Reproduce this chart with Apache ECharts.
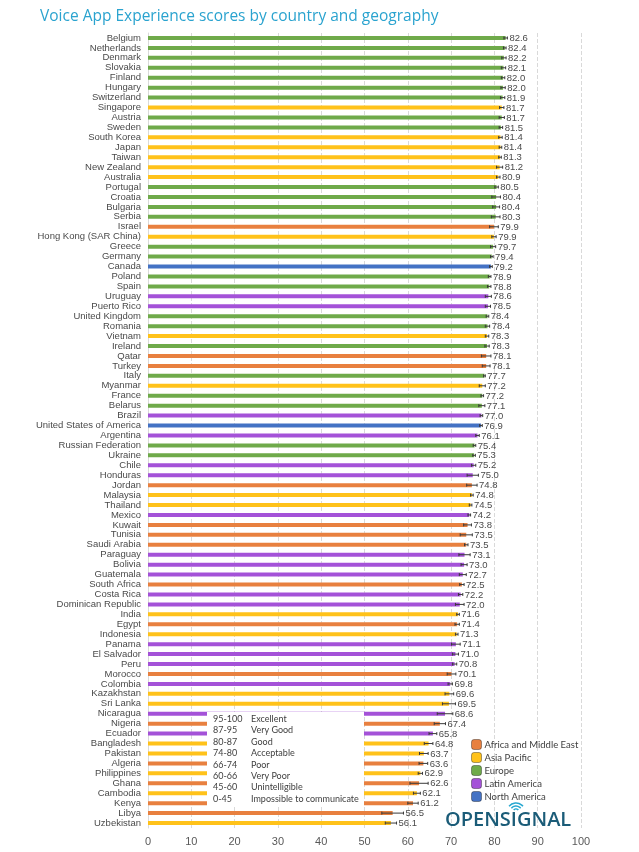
<!DOCTYPE html>
<html><head><meta charset="utf-8">
<script src="https://cdn.jsdelivr.net/npm/echarts@6/dist/echarts.min.js"></script>
<style>html,body{margin:0;padding:0;background:#fff}#c{width:639px;height:852px}</style>
</head><body><div id="c"></div>
<script>
const countries = ["Belgium","Netherlands","Denmark","Slovakia","Finland","Hungary","Switzerland","Singapore","Austria","Sweden","South Korea","Japan","Taiwan","New Zealand","Australia","Portugal","Croatia","Bulgaria","Serbia","Israel","Hong Kong (SAR China)","Greece","Germany","Canada","Poland","Spain","Uruguay","Puerto Rico","United Kingdom","Romania","Vietnam","Ireland","Qatar","Turkey","Italy","Myanmar","France","Belarus","Brazil","United States of America","Argentina","Russian Federation","Ukraine","Chile","Honduras","Jordan","Malaysia","Thailand","Mexico","Kuwait","Tunisia","Saudi Arabia","Paraguay","Bolivia","Guatemala","South Africa","Costa Rica","Dominican Republic","India","Egypt","Indonesia","Panama","El Salvador","Peru","Morocco","Colombia","Kazakhstan","Sri Lanka","Nicaragua","Nigeria","Ecuador","Bangladesh","Pakistan","Algeria","Philippines","Ghana","Cambodia","Kenya","Libya","Uzbekistan"];
const scores = [82.6,82.4,82.2,82.1,82.0,82.0,81.9,81.7,81.7,81.5,81.4,81.4,81.3,81.2,80.9,80.5,80.4,80.4,80.3,79.9,79.9,79.7,79.4,79.2,78.9,78.8,78.6,78.5,78.4,78.4,78.3,78.3,78.1,78.1,77.7,77.2,77.2,77.1,77.0,76.9,76.1,75.4,75.3,75.2,75.0,74.8,74.8,74.5,74.2,73.8,73.5,73.5,73.1,73.0,72.7,72.5,72.2,72.0,71.6,71.4,71.3,71.1,71.0,70.8,70.1,69.8,69.6,69.5,68.6,67.4,65.8,64.8,63.7,63.6,62.9,62.6,62.1,61.2,56.5,56.1];
// region codes: 0 Africa and Middle East, 1 Asia Pacific, 2 Europe, 3 Latin America, 4 North America
const regionOf = [2,2,2,2,2,2,2,1,2,2,1,1,1,1,1,2,2,2,2,0,1,2,2,4,2,2,3,3,2,2,1,2,0,0,2,1,2,2,3,4,3,2,2,3,3,0,1,1,3,0,0,0,3,3,3,0,3,3,1,0,1,3,3,3,0,3,1,1,3,0,3,1,1,0,1,0,1,0,0,1];
const errors = [0.4,0.3,0.5,0.5,0.4,0.5,0.5,0.5,0.6,0.4,0.4,0.3,0.3,0.7,0.4,0.4,1.0,0.8,1.0,1.0,0.5,0.6,0.3,0.3,0.3,0.4,0.7,0.6,0.3,0.5,0.4,0.5,1.1,0.9,0.2,0.7,0.3,0.7,0.3,0.3,0.4,0.3,0.3,0.5,1.3,1.2,0.3,0.3,0.3,0.9,1.4,0.4,1.3,0.7,0.8,0.5,0.5,1.0,0.3,0.5,0.3,1.0,0.7,0.5,1.0,0.5,1.0,1.5,1.8,1.3,0.9,1.0,1.0,1.0,0.5,2.1,0.8,1.2,2.5,1.3];
const regionNames = ["Africa and Middle East","Asia Pacific","Europe","Latin America","North America"];
const regionColors = ["#E8803F","#FFC21A","#6FAA4A","#A452D8","#4472C4"];
const xTicks = [0,10,20,30,40,50,60,70,80,90,100];
const scoreBands = ["95-100","87-95","80-87","74-80","66-74","60-66","45-60","0-45"];
const scoreNames = ["Excellent","Very Good","Good","Acceptable","Poor","Very Poor","Unintelligible","Impossible to communicate"];

const chart = echarts.init(document.getElementById('c'));
const barSeries = regionNames.map((name, r) => ({
  name, type: 'bar', barWidth: 4, barGap: '-100%',
  itemStyle: {color: regionColors[r]},
  data: scores.map((v, i) => regionOf[i] === r ? v : '-'),
  z: 2
}));
const errData = scores.map((v, i) => [v - errors[i], i, v + errors[i], v]);
const errSeries = {
  type: 'custom', z: 5,
  encode: {x: [0, 2], y: 1},
  data: errData,
  renderItem(params, api) {
    const y = api.value(1);
    const p0 = api.coord([api.value(0), y]);
    const p1 = api.coord([api.value(2), y]);
    const lbl = api.value(3).toFixed(1);
    return {type: 'group', children: [
      {type: 'line', shape: {x1: p0[0], y1: p0[1], x2: p1[0], y2: p1[1]}, style: {stroke: '#3a3a3a', lineWidth: 1}},
      {type: 'line', shape: {x1: p0[0], y1: p0[1]-1.5, x2: p0[0], y2: p0[1]+1.5}, style: {stroke: '#3a3a3a', lineWidth: 1}},
      {type: 'line', shape: {x1: p1[0], y1: p1[1]-1.5, x2: p1[0], y2: p1[1]+1.5}, style: {stroke: '#3a3a3a', lineWidth: 1}},
      {type: 'text', style: {x: p1[0] + 2, y: p1[1] + 0.5, text: lbl, fill: '#4a4a4a', font: '9.5px "Liberation Sans", Arial, sans-serif', textAlign: 'left', textVerticalAlign: 'middle'}}
    ]};
  }
};

const graphics = [
  {type: 'rect', z: 100, shape: {x: 207, y: 712, width: 157, height: 95}, style: {fill: '#fff'}}
];
scoreBands.forEach((b, i) => {
  graphics.push({type: 'text', z: 101, style: {x: 213, y: 719 + i * 11.4, text: b, fill: '#404040', font: '9px Lato, sans-serif', textVerticalAlign: 'middle'}});
  graphics.push({type: 'text', z: 101, style: {x: 251, y: 719 + i * 11.4, text: scoreNames[i], fill: '#404040', font: '9px Lato, sans-serif', textVerticalAlign: 'middle'}});
});
graphics.push({type: 'text', z: 101, style: {x: 445, y: 820, text: 'OPENSIGNAL', fill: '#1B5C78', font: '600 20px "Open Sans", sans-serif', textVerticalAlign: 'middle'}});
[3, 6, 9].forEach(r => graphics.push({type: 'arc', z: 101, shape: {cx: 516, cy: 812, r, startAngle: -Math.PI*0.78, endAngle: -Math.PI*0.22}, style: {stroke: '#27A8D1', lineWidth: 1.5, fill: null}}));

chart.setOption({
  animation: false,
  title: {text: 'Voice App Experience scores by country and geography', left: 35, top: 4, textStyle: {color: '#2AA3CF', fontSize: 15.5, fontWeight: 'normal', fontFamily: '"Open Sans", sans-serif'}},
  legend: {orient: 'vertical', left: 466, top: 734, itemWidth: 10, itemHeight: 10, itemGap: 2, icon: 'roundRect', data: regionNames, textStyle: {color: '#404040', fontSize: 9.5, fontFamily: 'Lato, sans-serif', padding: [0, 0, 0, -2]}, itemStyle: {borderColor: 'rgba(0,0,0,0.35)', borderWidth: 1}, z: 50},
  grid: {left: 148, right: 58, top: 33, bottom: 24},
  xAxis: {type: 'value', min: 0, max: 100, interval: 10, axisLine: {show: false}, axisTick: {show: false},
    splitLine: {lineStyle: {color: '#D9D9D9', type: 'dashed'}},
    axisLabel: {color: '#595959', fontSize: 11, margin: 8, fontFamily: '"Liberation Sans", Arial, sans-serif', formatter: v => xTicks.includes(v) ? String(v) : ''}},
  yAxis: {type: 'category', inverse: true, data: countries, axisTick: {show: false},
    axisLine: {lineStyle: {color: '#D9D9D9'}},
    axisLabel: {color: '#4a4a4a', fontSize: 9.5, margin: 7, interval: 0, fontFamily: '"Liberation Sans", Arial, sans-serif'}},
  series: [...barSeries, errSeries],
  graphic: graphics
});
</script></body></html>
